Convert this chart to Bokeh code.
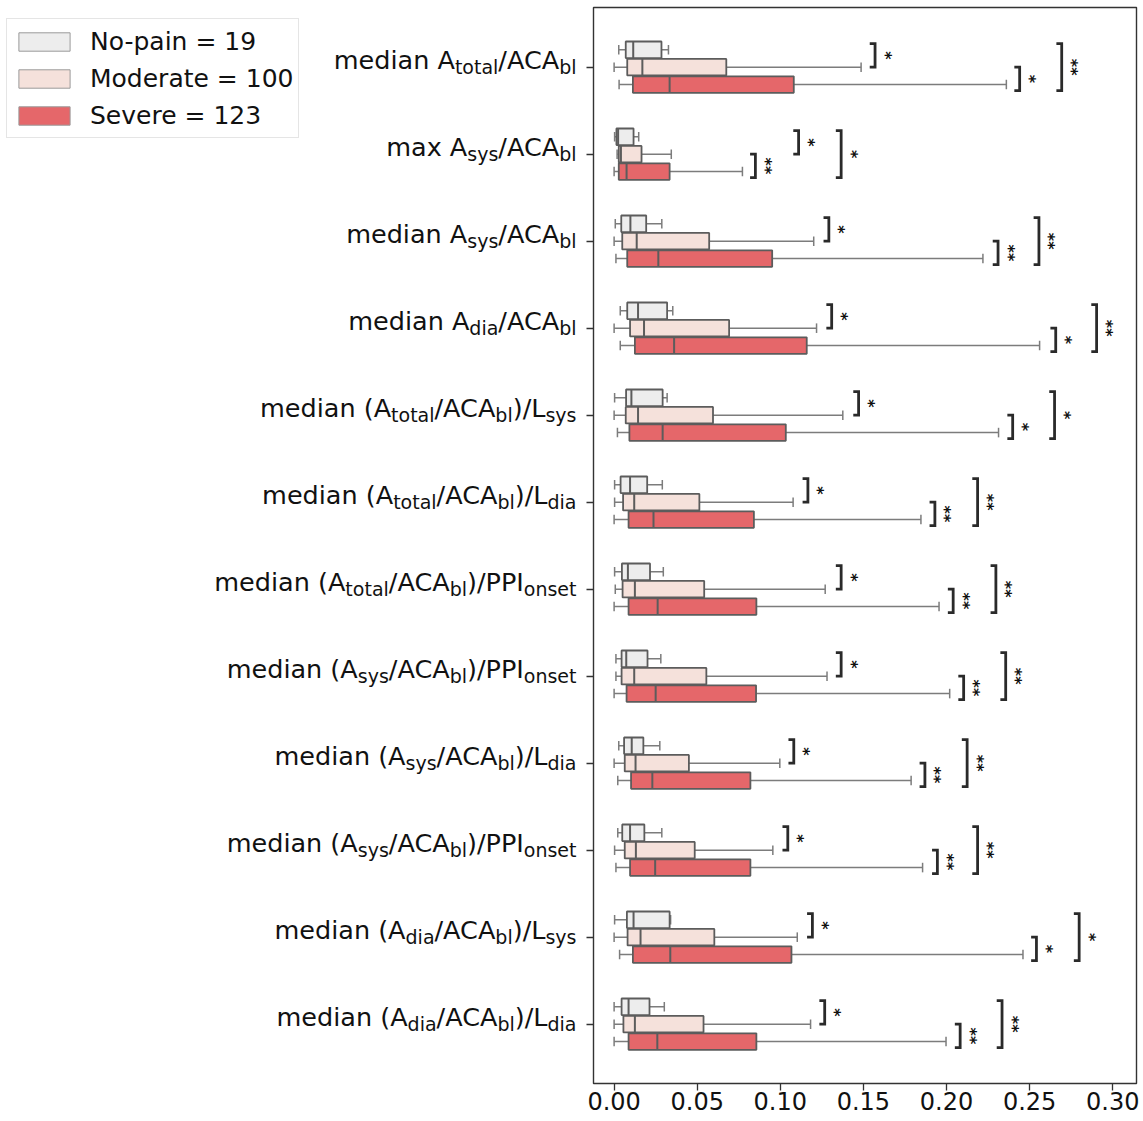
import glob
import math
from bokeh.plotting import figure
from bokeh.models import Range1d, FixedTicker, ColumnDataSource, Legend, LegendItem
from bokeh.layouts import row
from bokeh.embed import file_html
from bokeh.resources import INLINE
from bokeh.core.properties import value

# ------------------------------------------------------------------ data
labels = [
    "median A_{total}/ACA_{bl}",
    "max A_{sys}/ACA_{bl}",
    "median A_{sys}/ACA_{bl}",
    "median A_{dia}/ACA_{bl}",
    "median (A_{total}/ACA_{bl})/L_{sys}",
    "median (A_{total}/ACA_{bl})/L_{dia}",
    "median (A_{total}/ACA_{bl})/PPI_{onset}",
    "median (A_{sys}/ACA_{bl})/PPI_{onset}",
    "median (A_{sys}/ACA_{bl})/L_{dia}",
    "median (A_{sys}/ACA_{bl})/PPI_{onset}",
    "median (A_{dia}/ACA_{bl})/L_{sys}",
    "median (A_{dia}/ACA_{bl})/L_{dia}",
]
groups = ["No-pain = 19", "Moderate = 100", "Severe = 123"]
colors = ["#ededed", "#f5e1db", "#e5676a"]

nopain_whislo = [0.0028, 0.0003, 0.0007, 0.0037, 0.0003, 0.0003, 0.0003, 0.0011, 0.0028, 0.0022, 0.0003, 0.0000]
nopain_q1     = [0.0070, 0.0014, 0.0043, 0.0079, 0.0072, 0.0039, 0.0047, 0.0045, 0.0060, 0.0049, 0.0077, 0.0045]
nopain_med    = [0.0115, 0.0024, 0.0098, 0.0144, 0.0104, 0.0096, 0.0083, 0.0073, 0.0106, 0.0096, 0.0117, 0.0087]
nopain_q3     = [0.0285, 0.0117, 0.0193, 0.0319, 0.0292, 0.0199, 0.0216, 0.0201, 0.0176, 0.0182, 0.0334, 0.0213]
nopain_whishi = [0.0327, 0.0148, 0.0287, 0.0353, 0.0319, 0.0290, 0.0296, 0.0281, 0.0275, 0.0287, 0.0340, 0.0302]

moderate_whislo = [0.0000, 0.0018, 0.0000, 0.0000, 0.0000, 0.0003, 0.0007, 0.0011, 0.0000, 0.0003, 0.0000, 0.0000]
moderate_q1     = [0.0079, 0.0028, 0.0049, 0.0096, 0.0070, 0.0054, 0.0051, 0.0045, 0.0064, 0.0064, 0.0081, 0.0056]
moderate_med    = [0.0170, 0.0041, 0.0136, 0.0180, 0.0144, 0.0121, 0.0125, 0.0121, 0.0129, 0.0131, 0.0159, 0.0125]
moderate_q3     = [0.0675, 0.0165, 0.0572, 0.0692, 0.0595, 0.0513, 0.0542, 0.0555, 0.0450, 0.0485, 0.0603, 0.0538]
moderate_whishi = [0.1486, 0.0344, 0.1201, 0.1218, 0.1376, 0.1077, 0.1270, 0.1281, 0.0997, 0.0955, 0.1102, 0.1182]

severe_whislo = [0.0030, 0.0000, 0.0011, 0.0037, 0.0020, 0.0000, 0.0000, 0.0000, 0.0022, 0.0011, 0.0033, 0.0000]
severe_q1     = [0.0113, 0.0028, 0.0079, 0.0125, 0.0092, 0.0087, 0.0087, 0.0075, 0.0102, 0.0096, 0.0113, 0.0087]
severe_med    = [0.0334, 0.0075, 0.0266, 0.0361, 0.0292, 0.0237, 0.0262, 0.0250, 0.0230, 0.0247, 0.0338, 0.0260]
severe_q3     = [0.1081, 0.0334, 0.0951, 0.1159, 0.1033, 0.0841, 0.0856, 0.0854, 0.0820, 0.0820, 0.1067, 0.0856]
severe_whishi = [0.2360, 0.0772, 0.2219, 0.2560, 0.2313, 0.1846, 0.1955, 0.2019, 0.1787, 0.1856, 0.2460, 0.1997]

# significance brackets (x position of bracket, star label)
np_mod_x   = [0.1570, 0.1110, 0.1292, 0.1309, 0.1471, 0.1166, 0.1366, 0.1366, 0.1081, 0.1045, 0.1193, 0.1267]
np_mod_sig = ["*", "*", "*", "*", "*", "*", "*", "*", "*", "*", "*", "*"]
mod_sev_x   = [0.2440, 0.0850, 0.2310, 0.2657, 0.2398, 0.1930, 0.2040, 0.2103, 0.1870, 0.1945, 0.2541, 0.2082]
mod_sev_sig = ["*", "**", "**", "*", "*", "**", "**", "**", "**", "**", "*", "**"]
np_sev_x   = [0.2693, 0.1366, 0.2556, 0.2903, 0.2650, 0.2187, 0.2297, 0.2356, 0.2124, 0.2187, 0.2798, 0.2334]
np_sev_sig = ["**", "*", "**", "**", "*", "**", "**", "**", "**", "**", "*", "**"]

x_ticks = [0.0, 0.05, 0.10, 0.15, 0.20, 0.25, 0.30]
x_tick_labels = ["0.00", "0.05", "0.10", "0.15", "0.20", "0.25", "0.30"]

# ------------------------------------------------------------------ layout
H = 1119
TOP = 7
BOTTOM = 36
WL = 586
WM = 555
FONT = "DejaVu Sans"
MAIN_SIZE = 25.5
SUB_SIZE = 19.0
EDGE = "#5c5c5c"
WHISK = "#7c7c7c"

yr = Range1d(start=11.682, end=-0.686)
xr = Range1d(start=-0.0124, end=0.3143)

p = figure(width=WM, height=H, x_range=xr, y_range=yr, output_backend="svg",
           toolbar_location=None, min_border_left=0, min_border_right=5,
           min_border_top=TOP, min_border_bottom=BOTTOM)
p.grid.visible = False
p.outline_line_color = "#333333"
p.outline_line_width = 1.4
p.background_fill_color = "white"

p.xaxis.ticker = FixedTicker(ticks=x_ticks)
p.xaxis.major_label_overrides = {t: l for t, l in zip(x_ticks, x_tick_labels)}
p.xaxis.major_label_text_font = FONT
p.xaxis.major_label_text_font_size = "24px"
p.xaxis.major_label_text_color = "#111111"
p.xaxis.major_tick_out = 7
p.xaxis.major_tick_in = 0
p.xaxis.minor_tick_line_color = None
p.xaxis.axis_line_color = None
p.xaxis.major_tick_line_color = "#333333"
p.xaxis.major_tick_line_width = 1.3
p.xaxis.major_label_standoff = 1

p.yaxis.ticker = FixedTicker(ticks=list(range(len(labels))))
p.yaxis.major_label_overrides = {i: "" for i in range(len(labels))}
p.yaxis.major_label_text_font_size = "0px"
p.yaxis.major_label_standoff = 0
p.yaxis.major_tick_out = 7
p.yaxis.major_tick_in = 0
p.yaxis.minor_tick_line_color = None
p.yaxis.axis_line_color = None
p.yaxis.major_tick_line_color = "#333333"
p.yaxis.major_tick_line_width = 1.3

offsets = [-0.2, 0.0, 0.2]
BOX_H = 0.19
CAP_H = 0.11
stats = [
    (nopain_whislo, nopain_q1, nopain_med, nopain_q3, nopain_whishi),
    (moderate_whislo, moderate_q1, moderate_med, moderate_q3, moderate_whishi),
    (severe_whislo, severe_q1, severe_med, severe_q3, severe_whishi),
]
for g, (lo, q1, med, q3, hi) in enumerate(stats):
    ys = [i + offsets[g] for i in range(len(labels))]
    src = ColumnDataSource(dict(
        y=ys, lo=lo, q1=q1, med=med, q3=q3, hi=hi,
        ct=[y - CAP_H / 2 for y in ys], cb=[y + CAP_H / 2 for y in ys],
        bt=[y - BOX_H / 2 for y in ys], bb=[y + BOX_H / 2 for y in ys],
    ))
    p.segment(x0="lo", y0="y", x1="q1", y1="y", source=src, line_color=WHISK, line_width=1.5)
    p.segment(x0="q3", y0="y", x1="hi", y1="y", source=src, line_color=WHISK, line_width=1.5)
    p.segment(x0="lo", y0="ct", x1="lo", y1="cb", source=src, line_color=WHISK, line_width=1.5)
    p.segment(x0="hi", y0="ct", x1="hi", y1="cb", source=src, line_color=WHISK, line_width=1.5)
    p.hbar(y="y", left="q1", right="q3", height=BOX_H, source=src,
           fill_color=colors[g], line_color=EDGE, line_width=1.8)
    p.segment(x0="med", y0="bt", x1="med", y1="bb", source=src, line_color=EDGE, line_width=2)

# brackets
ARM = 0.0032
bx, by, tx, ty, tt = [], [], [], [], []
for xs_arr, sig_arr, a, b in [(np_mod_x, np_mod_sig, -0.27, 0.0),
                              (mod_sev_x, mod_sev_sig, 0.0, 0.27),
                              (np_sev_x, np_sev_sig, -0.27, 0.27)]:
    for i in range(len(labels)):
        x = xs_arr[i]
        bx.append([x - ARM, x, x, x - ARM])
        by.append([i + a, i + a, i + b, i + b])
        tx.append(x)
        ty.append(i + (a + b) / 2)
        tt.append(sig_arr[i])
p.multi_line(xs=bx, ys=by, line_color="#2a2a2a", line_width=2.8, line_join="miter")
p.text(x=tx, y=ty, text=tt, angle=-math.pi / 2, x_offset=10, text_align="center",
       text_baseline="middle", text_font=value(FONT), text_font_size="16px",
       text_font_style="bold", text_color="#111111")

# ------------------------------------------------------------------ label panel
pl = figure(width=WL, height=H, x_range=Range1d(0, WL), y_range=yr, output_backend="svg",
            toolbar_location=None, min_border_left=0, min_border_right=0,
            min_border_top=TOP, min_border_bottom=BOTTOM,
            x_axis_location=None, y_axis_location=None)
pl.grid.visible = False
pl.outline_line_color = None

_font = None
try:
    from PIL import ImageFont
    cands = glob.glob("/usr/share/fonts/**/DejaVuSans.ttf", recursive=True)
    if cands:
        _font = ImageFont.truetype(cands[0], 100)
except Exception:
    _font = None

_W = {" ": 651, "(": 799, ")": 799, "/": 690, "A": 1401, "C": 1430, "L": 1141, "P": 1235,
      "I": 604, "a": 1255, "b": 1300, "d": 1300, "e": 1260, "i": 569, "l": 569, "m": 1995,
      "n": 1298, "o": 1253, "s": 1067, "t": 803, "x": 1212, "y": 1212, "c": 1126, "r": 842}


def text_width(s, size):
    if _font is not None:
        try:
            return _font.getlength(s) * size / 100.0
        except Exception:
            pass
    return sum(_W.get(c, 1250) for c in s) / 2048.0 * size


def parse(label):
    segs = []
    i = 0
    buf = ""
    while i < len(label):
        if label[i] == "_" and i + 1 < len(label) and label[i + 1] == "{":
            if buf:
                segs.append((buf, False))
                buf = ""
            j = label.index("}", i)
            segs.append((label[i + 2:j], True))
            i = j + 1
        else:
            buf += label[i]
            i += 1
    if buf:
        segs.append((buf, False))
    return segs


RIGHT = 576
main_d = dict(x=[], y=[], text=[])
sub_d = dict(x=[], y=[], text=[])
for i, lab in enumerate(labels):
    segs = parse(lab)
    widths = [text_width(t, SUB_SIZE if s else MAIN_SIZE) for t, s in segs]
    x = RIGHT - sum(widths)
    for (t, s), w in zip(segs, widths):
        d = sub_d if s else main_d
        d["x"].append(x)
        d["y"].append(i)
        d["text"].append(t)
        x += w
pl.text(x="x", y="y", text="text", source=ColumnDataSource(main_d), text_font=value(FONT),
        text_font_size=f"{MAIN_SIZE}px", text_baseline="alphabetic", text_align="left",
        y_offset=-7, text_color="#111111")
pl.text(x="x", y="y", text="text", source=ColumnDataSource(sub_d), text_font=value(FONT),
        text_font_size=f"{SUB_SIZE}px", text_baseline="alphabetic", text_align="left",
        y_offset=-0.5, text_color="#111111")

# legend (swatch renderers kept outside the visible range of the label panel)
items = []
for name, col in zip(groups, colors):
    r = pl.quad(left=[-60], right=[-40], top=[0.0], bottom=[0.1], fill_color=col,
                line_color="#9a9a9a", line_width=1)
    items.append(LegendItem(label=name, renderers=[r]))
leg = Legend(items=items, location=(6, 945), margin=0, padding=5, spacing=3,
             glyph_width=64, glyph_height=23, label_height=34, label_standoff=14,
             label_text_font=FONT, label_text_font_size="25px", label_text_color="#111111",
             border_line_color="#cccccc", border_line_width=1,
             background_fill_color="white", background_fill_alpha=1.0)
pl.add_layout(leg)

layout = row(pl, p)
open("out.html", "w").write(file_html(layout, INLINE))
